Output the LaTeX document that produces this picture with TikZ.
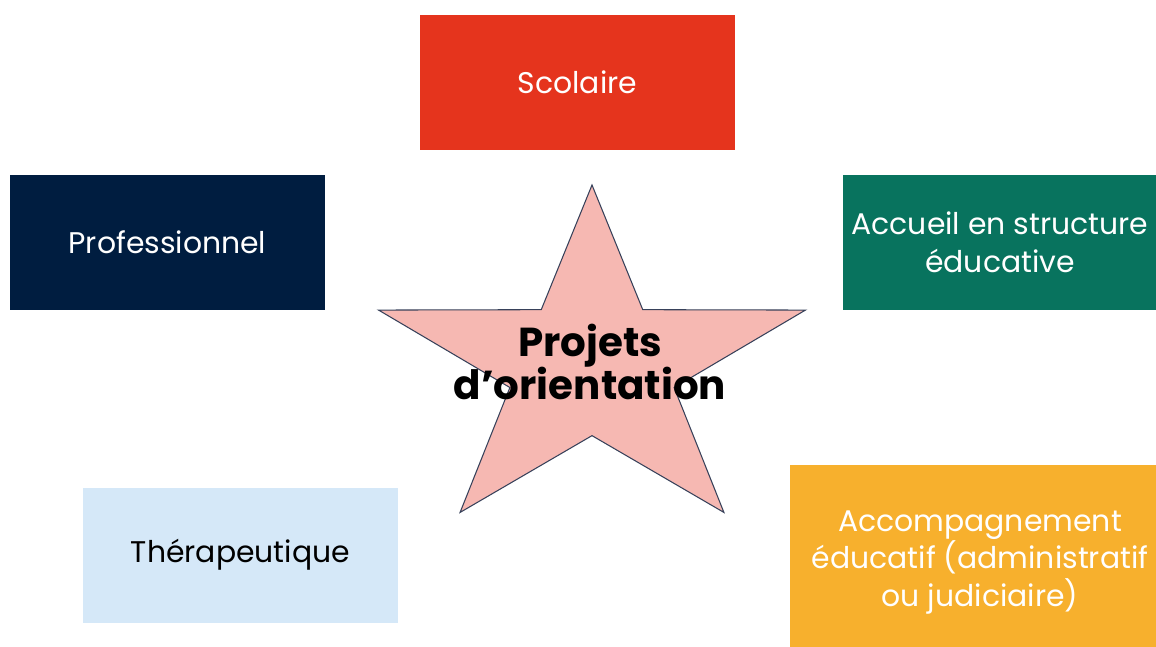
\documentclass[tikz,border=0pt]{standalone}
\usepackage{fontspec}
\setmainfont{Poppins}
\usepackage{xcolor}
\usepackage{tikz}
\usetikzlibrary{shapes.geometric, positioning}
\definecolor{scolcolor}{RGB}{229,52,29}
\definecolor{procolor}{RGB}{0,29,64}
\definecolor{accucolor}{RGB}{8,115,94}
\definecolor{thercolor}{RGB}{213,232,248}
\definecolor{accocolor}{RGB}{247,176,45}
\definecolor{starcolor}{RGB}{246,184,178}
\definecolor{starline}{RGB}{55,65,90}

\begin{document}
\begin{tikzpicture}[
    domain/.style={fill=#1, minimum width=6.3cm, minimum height=2.7cm, align=center, font=\fontsize{17}{21.5}\selectfont, inner sep=0pt},
    bigstar/.style={star, star points=5, star point ratio=2.6, draw=starline, line width=0.6pt, fill=starcolor, minimum size=7.24cm, inner sep=0pt}
]
    \useasboundingbox (0,0) rectangle (23.12,12.92);

    % Centre
    \node[bigstar, transform shape, xscale=1.24] (star) at (11.84,5.6) {};
    \node[font=\fontsize{23}{25}\selectfont\bfseries, align=center] (proj) at (11.8,5.68) {Projets\\d’orientation};

    % Domains
    \node[domain=scolcolor, text=white] (scol) at (11.55,11.27) {Scolaire};
    \node[domain=procolor, text=white] (pro) at (3.35,8.07) {Professionnel};
    \node[domain=accucolor, text=white] (accu) at (20.0,8.07) {Accueil en structure\\éducative};
    \node[domain=thercolor, text=black] (ther) at (4.81,1.82) {Thérapeutique};
    \node[domain=accocolor, text=white, minimum width=7.6cm, minimum height=3.9cm] (acco) at (19.6,1.67) {Accompagnement\\éducatif (administratif\\ou judiciaire)};
\end{tikzpicture}
\end{document}
